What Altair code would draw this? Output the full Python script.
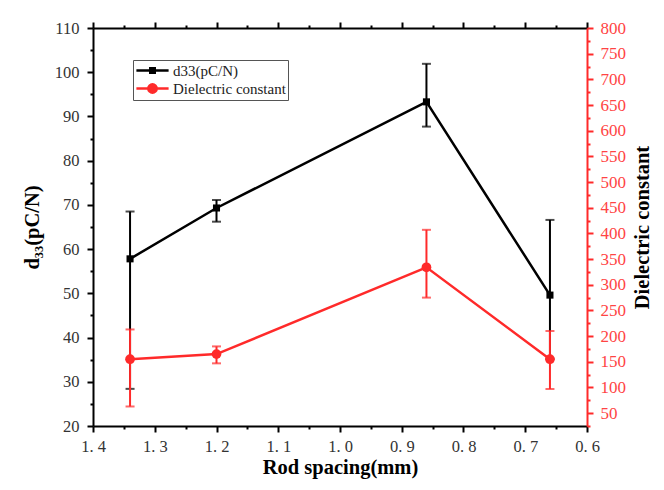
import altair as alt
import pandas as pd

# ---- data ----
spacing = [1.34, 1.2, 0.86, 0.66]
d33 = [57.8, 69.3, 93.3, 49.6]
d33_hi = [68.5, 71.1, 101.9, 66.6]
d33_lo = [28.4, 66.2, 87.7, 35.2]
diel = [155, 165, 334, 155]
diel_hi = [213, 180, 407, 210]
diel_lo = [63, 147, 275, 97]

series_names = ["d33(pC/N)", "Dielectric constant"]
RED = "#FF2A2A"
series_colors = ["#000000", RED]

x_major = [1.4, 1.3, 1.2, 1.1, 1.0, 0.9, 0.8, 0.7, 0.6]
x_minor = [1.35, 1.25, 1.15, 1.05, 0.95, 0.85, 0.75, 0.65]
left_major = list(range(20, 120, 10))
left_minor = list(range(25, 110, 10))
right_major = list(range(50, 850, 50))
right_minor = list(range(25, 800, 50))

df_d = pd.DataFrame({"x": spacing, "y": d33, "hi": d33_hi, "lo": d33_lo})
df_e = pd.DataFrame({"x": spacing, "y": diel, "hi": diel_hi, "lo": diel_lo})
df_leg = pd.DataFrame({"series": series_names})

FONT = "Liberation Serif"
xscale = alt.Scale(domain=[0.6, 1.4], reverse=True, nice=False, zero=False)
ls = alt.Scale(domain=[20, 110], nice=False, zero=False)
rs = alt.Scale(domain=[25, 800], nice=False, zero=False)

common_lab = dict(labelFont=FONT, labelFlush=False, labelOverlap=False, grid=False,
                  titleFont=FONT, titleFontSize=20.5, titleFontWeight="bold", titleColor="black")


def minor_axis(orient, values, color):
    return alt.Axis(orient=orient, values=values, title=None, labels=False, domain=False,
                    tickSize=3, tickWidth=2, tickColor=color, grid=False)


x_axis_bottom = alt.Axis(
    orient="bottom", values=x_major, title="Rod spacing(mm)",
    labelExpr="replace(format(datum.value, '.1f'), '.', '. ')",
    tickSize=6, tickWidth=2, tickColor="black", domainColor="black", domainWidth=2,
    labelFontSize=16.5, labelColor="#333333", labelPadding=6, titlePadding=3, **common_lab,
)
x_axis_top = alt.Axis(
    orient="top", values=x_major, title=None, labels=False,
    tickSize=6, tickWidth=2, tickColor="black", domainColor="black", domainWidth=2, grid=False,
)
y_axis_left = alt.Axis(
    orient="left", values=left_major, title="d₃₃(pC/N)",
    tickSize=6, tickWidth=2, tickColor="black", domainColor="black", domainWidth=2,
    labelFontSize=16.5, labelColor="#333333", labelPadding=8, titlePadding=12, **common_lab,
)
y_axis_right = alt.Axis(
    orient="right", values=right_major, title="Dielectric constant",
    tickSize=6, tickWidth=2, tickColor=RED, domainColor=RED, domainWidth=2,
    labelFontSize=17, labelColor="#FF4444", labelPadding=7, titleAngle=270, titlePadding=27,
    **common_lab,
)


def series_layer(df, scale, color, xaxis, yaxis, xminor, yminor, point_mark):
    base = alt.Chart(df)
    rule = base.mark_rule(color=color, strokeWidth=2).encode(
        x=alt.X("x:Q", scale=xscale, axis=None),
        y=alt.Y("lo:Q", scale=scale, axis=None),
        y2="hi:Q",
    )
    cap_hi = base.mark_tick(color=color, orient="horizontal", size=9, thickness=2).encode(
        x=alt.X("x:Q", scale=xscale, axis=None),
        y=alt.Y("hi:Q", scale=scale, axis=None),
    )
    cap_lo = base.mark_tick(color=color, orient="horizontal", size=9, thickness=2).encode(
        x=alt.X("x:Q", scale=xscale, axis=None),
        y=alt.Y("lo:Q", scale=scale, axis=None),
    )
    line = base.mark_line(color=color, strokeWidth=2.5).encode(
        x=alt.X("x:Q", scale=xscale, axis=xaxis),
        y=alt.Y("y:Q", scale=scale, axis=yaxis),
    )
    pts = point_mark(base).encode(
        x=alt.X("x:Q", scale=xscale, axis=xminor),
        y=alt.Y("y:Q", scale=scale, axis=yminor),
    )
    return alt.layer(rule, cap_hi, cap_lo, line, pts).resolve_axis(x="independent", y="independent")


d33_layer = series_layer(
    df_d, ls, "black", x_axis_bottom, y_axis_left,
    minor_axis("bottom", x_minor, "black"), minor_axis("left", left_minor, "black"),
    lambda b: b.mark_square(size=50, color="black", opacity=1),
)
diel_layer = series_layer(
    df_e, rs, RED, x_axis_top, y_axis_right,
    minor_axis("top", x_minor, "black"), minor_axis("right", right_minor, RED),
    lambda b: b.mark_circle(size=95, color=RED, opacity=1),
)

# legend glyphs: line segment + (stroke-filled) marker
sym_square = "M-2.3,0H2.3M-0.32,-0.32H0.32V0.32H-0.32Z"
sym_circle = ("M-2.3,0H2.3M-0.6,0A0.6,0.6,0,1,0,0.6,0A0.6,0.6,0,1,0,-0.6,0Z"
              "M-0.52,-0.3H0.52M-0.52,0.3H0.52")

legend_spec = alt.Legend(
    title=None, orient="none", legendX=40, legendY=32,
    strokeColor="#555555", fillColor="white", padding=2,
    symbolSize=196, symbolOffset=9, labelOffset=12, rowPadding=0,
    symbolStrokeWidth=2.5, symbolOpacity=1,
    labelFont=FONT, labelFontSize=15, labelColor="#222222",
)
legend_layer = alt.Chart(df_leg).transform_filter("false").mark_point(filled=False).encode(
    color=alt.Color("series:N", scale=alt.Scale(domain=series_names, range=series_colors), legend=legend_spec),
    shape=alt.Shape("series:N", scale=alt.Scale(domain=series_names, range=[sym_square, sym_circle]), legend=legend_spec),
)

chart = alt.layer(d33_layer, diel_layer, legend_layer).resolve_scale(
    y="independent"
).resolve_axis(
    x="independent", y="independent"
).properties(
    width=494, height=398,
    background="white",
    autosize=alt.AutoSizeParams(type="none"),
    padding={"left": 85, "top": 20, "right": 69, "bottom": 56},
).configure_view(stroke=None)

chart.save("out.html", embed_options={"renderer": "svg", "actions": False})
